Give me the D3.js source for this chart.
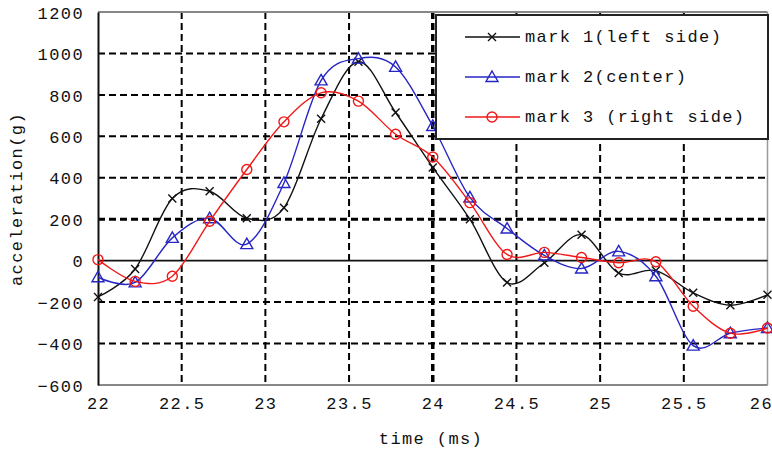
<!DOCTYPE html>
<html>
<head>
  <meta http-equiv="Content-Type" content="text/html;charset=utf-8" />
  <script src="https://cdn.jsdelivr.net/npm/d3@7"></script>
  <style type="text/css">
    body { margin: 0; background: #fff; }
    text {
      font-family: "Liberation Mono", "DejaVu Sans Mono", monospace;
      font-size: 17px;
      letter-spacing: 1.4px;
      fill: #111;
    }
    .grid {
      stroke: #000;
      stroke-dasharray: 7 4;
      fill: none;
    }
  </style>
</head>
<body>
  <svg id="chart" width="772" height="452"></svg>
  <script>

    // sample times (ms), 18 steps from 22 to 26
    const times = [22, 22.222, 22.444, 22.667, 22.889, 23.111, 23.333, 23.556, 23.778, 24,
      24.222, 24.444, 24.667, 24.889, 25.111, 25.333, 25.556, 25.778, 26];

    const mark1 = [-175, -40, 300, 335, 205, 255, 685, 960, 715, 450,
      200, -105, -10, 125, -60, -48, -155, -215, -165];
    const mark2 = [-80, -105, 110, 205, 80, 375, 870, 975, 935, 650,
      305, 155, 25, -38, 45, -75, -410, -350, -325];
    const mark3 = [5, -100, -75, 190, 440, 670, 810, 770, 610, 500,
      280, 30, 40, 15, -10, -5, -220, -350, -325];

    const seriesNames = ["mark 1(left side)", "mark 2(center)", "mark 3 (right side)"];
    const xTicks = [22, 22.5, 23, 23.5, 24, 24.5, 25, 25.5, 26];
    const yTicks = [-600, -400, -200, 0, 200, 400, 600, 800, 1000, 1200];

    const series = [
      { name: seriesNames[0], values: mark1, color: "#111", marker: "cross" },
      { name: seriesNames[1], values: mark2, color: "#2626c4", marker: "triangle" },
      { name: seriesNames[2], values: mark3, color: "#f01818", marker: "circle" }
    ];

    const svg = d3.select("#chart");

    const x = d3.scaleLinear().domain([22, 26]).range([98, 767.5]);
    const y = d3.scaleLinear().domain([-600, 1200]).range([385, 12]);

    // grid
    svg.append("g").selectAll("line")
      .data(yTicks.filter(d => d !== 0 && d !== 1200 && d !== -600))
      .join("line")
      .attr("class", "grid")
      .attr("x1", x(22)).attr("x2", x(26))
      .attr("y1", d => y(d)).attr("y2", d => y(d))
      .attr("stroke-width", d => d === 200 ? 3 : 2);

    svg.append("g").selectAll("line")
      .data(xTicks.filter(d => d !== 22 && d !== 26))
      .join("line")
      .attr("class", "grid")
      .attr("x1", d => x(d)).attr("x2", d => x(d))
      .attr("y1", y(1200)).attr("y2", y(-600))
      .attr("stroke-dasharray", "6 5")
      .attr("stroke-width", d => d === 24 ? 3.5 : 2);

    // frame
    svg.append("line").attr("x1", x(22)).attr("x2", x(26)).attr("y1", y(1200)).attr("y2", y(1200))
      .attr("stroke", "#888").attr("stroke-width", 2);
    svg.append("line").attr("x1", x(26)).attr("x2", x(26)).attr("y1", y(1200)).attr("y2", y(-600))
      .attr("stroke", "#999").attr("stroke-width", 1.5);
    svg.append("line").attr("x1", x(22)).attr("x2", x(26)).attr("y1", y(-600)).attr("y2", y(-600))
      .attr("stroke", "#888").attr("stroke-width", 2);
    svg.append("line").attr("x1", x(22)).attr("x2", x(26)).attr("y1", y(0)).attr("y2", y(0))
      .attr("stroke", "#111").attr("stroke-width", 1.8);

    // axes
    const yAxis = d3.axisLeft(y).tickValues(yTicks).tickSize(0).tickPadding(14)
      .tickFormat(d3.format("d"));
    const gy = svg.append("g").attr("transform", `translate(${x(22)},0)`).call(yAxis);
    gy.select(".domain").attr("stroke", "#111").attr("stroke-width", 2);
    gy.selectAll("text").style("font-size", "17px").attr("dy", "0.36em");

    const xAxis = d3.axisBottom(x).tickValues(xTicks).tickSize(0).tickPadding(12)
      .tickFormat(d3.format("~g"));
    const gx = svg.append("g").attr("transform", `translate(0,${y(-600)})`).call(xAxis);
    gx.select(".domain").remove();
    gx.selectAll("text").style("font-size", "17px");
    // last label sits at the right edge of the picture
    gx.selectAll("text").filter(d => d === 26).attr("text-anchor", "end").attr("x", 5);

    svg.append("text")
      .attr("transform", `translate(22,199) rotate(-90)`)
      .attr("text-anchor", "middle")
      .text("acceleration(g)");

    svg.append("text")
      .attr("x", 431).attr("y", 444)
      .attr("text-anchor", "middle")
      .text("time (ms)");

    // markers
    function drawMarker (g, type, color) {
      if (type === "cross") {
        g.append("path").attr("d", "M-4,-4L4,4M-4,4L4,-4")
          .attr("stroke", color).attr("stroke-width", 1.4).attr("fill", "none");
      } else if (type === "triangle") {
        g.append("path").attr("d", "M0,-6L6,4.5L-6,4.5Z")
          .attr("stroke", color).attr("stroke-width", 1.4).attr("fill", "none");
      } else {
        g.append("circle").attr("r", 5)
          .attr("stroke", color).attr("stroke-width", 1.4).attr("fill", "none");
      }
    }

    const line = d3.line()
      .x((d, i) => x(times[i]))
      .y(d => y(d))
      .curve(d3.curveCardinal.tension(0));

    series.forEach(s => {
      svg.append("path")
        .attr("d", line(s.values))
        .attr("fill", "none")
        .attr("stroke", s.color)
        .attr("stroke-width", 1.4);
      s.values.forEach((v, i) => {
        const g = svg.append("g").attr("transform", `translate(${x(times[i])},${y(v)})`);
        drawMarker(g, s.marker, s.color);
      });
    });

    // legend
    const legend = svg.append("g");
    legend.append("rect")
      .attr("x", 436).attr("y", 15).attr("width", 332).attr("height", 124)
      .attr("fill", "#fff").attr("stroke", "#222").attr("stroke-width", 2);

    series.forEach((s, i) => {
      const ly = 37 + i * 40;
      legend.append("line").attr("x1", 465).attr("x2", 520).attr("y1", ly).attr("y2", ly)
        .attr("stroke", s.color).attr("stroke-width", 1.4);
      drawMarker(legend.append("g").attr("transform", `translate(492,${ly})`), s.marker, s.color);
      legend.append("text").attr("x", 525).attr("y", ly).attr("dy", "0.32em").text(s.name);
    });

  </script>
</body>
</html>
